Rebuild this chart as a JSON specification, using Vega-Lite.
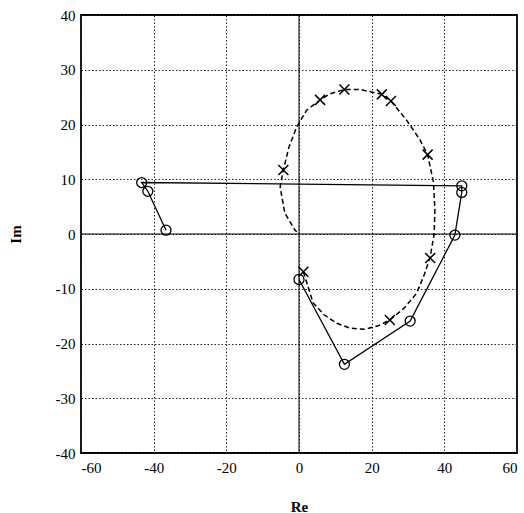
{
  "$schema": "https://vega.github.io/schema/vega-lite/v6.json",
  "autosize": "none",
  "width": 436,
  "height": 438,
  "padding": {"left": 81, "top": 15, "right": 7, "bottom": 60},
  "background": "white",
  "config": {
    "view": {"stroke": "black", "strokeWidth": 1.8},
    "font": "Liberation Serif",
    "axis": {
      "labelFont": "Liberation Serif",
      "labelFontSize": 15,
      "labelColor": "black",
      "labelExpr": "replace(datum.label, '−', '-')",
      "titleFont": "Liberation Serif",
      "titleFontSize": 15,
      "titleFontWeight": "bold",
      "titleColor": "black",
      "grid": true,
      "gridColor": "#222222",
      "gridDash": [1.5, 2],
      "gridWidth": 1,
      "gridOpacity": 1,
      "domain": false,
      "ticks": false
    }
  },
  "datasets": {
    "solid": [
      {"i": 0, "x": -36.6, "y": 0.7},
      {"i": 1, "x": -41.6, "y": 7.8},
      {"i": 2, "x": -43.3, "y": 9.4},
      {"i": 3, "x": 44.8, "y": 8.8},
      {"i": 4, "x": 44.8, "y": 7.6},
      {"i": 5, "x": 42.9, "y": -0.2},
      {"i": 6, "x": 30.6, "y": -15.9},
      {"i": 7, "x": 12.5, "y": -23.8},
      {"i": 8, "x": 0, "y": -8.3}
    ],
    "dashed": [
      {"i": 0, "x": 1.2, "y": -6.9},
      {"i": 1, "x": 3.9, "y": -12.6},
      {"i": 2, "x": 7, "y": -14.8},
      {"i": 3, "x": 10.4, "y": -16.3},
      {"i": 4, "x": 14, "y": -17.2},
      {"i": 5, "x": 18.2, "y": -17.4},
      {"i": 6, "x": 22, "y": -16.7},
      {"i": 7, "x": 25, "y": -15.7},
      {"i": 8, "x": 29, "y": -13.5},
      {"i": 9, "x": 32.4, "y": -10.8},
      {"i": 10, "x": 34.6, "y": -7.2},
      {"i": 11, "x": 36.1, "y": -4.2},
      {"i": 12, "x": 37.2, "y": 0},
      {"i": 13, "x": 37.4, "y": 4.5},
      {"i": 14, "x": 37, "y": 9.5},
      {"i": 15, "x": 35.4, "y": 14.5},
      {"i": 16, "x": 33.3, "y": 17.2},
      {"i": 17, "x": 29.6, "y": 20.8},
      {"i": 18, "x": 25.3, "y": 24.3},
      {"i": 19, "x": 22.8, "y": 25.5},
      {"i": 20, "x": 16.8, "y": 26.4},
      {"i": 21, "x": 12.5, "y": 26.4},
      {"i": 22, "x": 8.5, "y": 25.6},
      {"i": 23, "x": 5.8, "y": 24.5},
      {"i": 24, "x": 2.1, "y": 22.6},
      {"i": 25, "x": -0.6, "y": 19.6},
      {"i": 26, "x": -2.8, "y": 15.8},
      {"i": 27, "x": -4.3, "y": 11.7},
      {"i": 28, "x": -5.2, "y": 8.6},
      {"i": 29, "x": -3.9, "y": 3.8},
      {"i": 30, "x": -1.1, "y": 0.7},
      {"i": 31, "x": -0.6, "y": 0.4}
    ],
    "crosses": [
      {"x": 1.2, "y": -6.9},
      {"x": 25.0, "y": -15.7},
      {"x": 36.1, "y": -4.4},
      {"x": 35.4, "y": 14.5},
      {"x": 25.3, "y": 24.3},
      {"x": 22.8, "y": 25.5},
      {"x": 12.5, "y": 26.4},
      {"x": 5.8, "y": 24.5},
      {"x": -4.3, "y": 11.7}
    ]
  },
  "layer": [
    {
      "data": {"values": [{"v": 0}]},
      "mark": {"type": "rule", "color": "black", "strokeWidth": 1},
      "encoding": {"x": {"datum": 0, "type": "quantitative", "scale": {"domain": [-60, 60], "nice": false}, "axis": {"values": [-60, -40, -20, 0, 20, 40, 60], "title": "Re", "labelPadding": 7, "titlePadding": 24}}}
    },
    {
      "data": {"values": [{"v": 0}]},
      "mark": {"type": "rule", "color": "black", "strokeWidth": 1},
      "encoding": {"y": {"datum": 0, "type": "quantitative", "scale": {"domain": [-40, 40], "nice": false}, "axis": {"values": [-40, -30, -20, -10, 0, 10, 20, 30, 40], "title": "Im", "labelPadding": 6, "titlePadding": 32}}}
    },
    {
      "data": {"name": "dashed"},
      "mark": {"type": "line", "color": "black", "strokeWidth": 1.5, "strokeDash": [5, 3]},
      "encoding": {
        "x": {"field": "x", "type": "quantitative"},
        "y": {"field": "y", "type": "quantitative"},
        "order": {"field": "i"}
      }
    },
    {
      "data": {"name": "solid"},
      "mark": {"type": "line", "color": "black", "strokeWidth": 1.3},
      "encoding": {
        "x": {"field": "x", "type": "quantitative"},
        "y": {"field": "y", "type": "quantitative"},
        "order": {"field": "i"}
      }
    },
    {
      "data": {"name": "solid"},
      "mark": {"type": "point", "shape": "circle", "filled": false, "stroke": "black", "strokeWidth": 1.3, "size": 100, "opacity": 1},
      "encoding": {
        "x": {"field": "x", "type": "quantitative"},
        "y": {"field": "y", "type": "quantitative"}
      }
    },
    {
      "data": {"name": "crosses"},
      "mark": {"type": "point", "shape": "M-1,-1L1,1M-1,1L1,-1", "filled": false, "stroke": "black", "strokeWidth": 1.5, "size": 100, "opacity": 1},
      "encoding": {
        "x": {"field": "x", "type": "quantitative"},
        "y": {"field": "y", "type": "quantitative"}
      }
    }
  ]
}
